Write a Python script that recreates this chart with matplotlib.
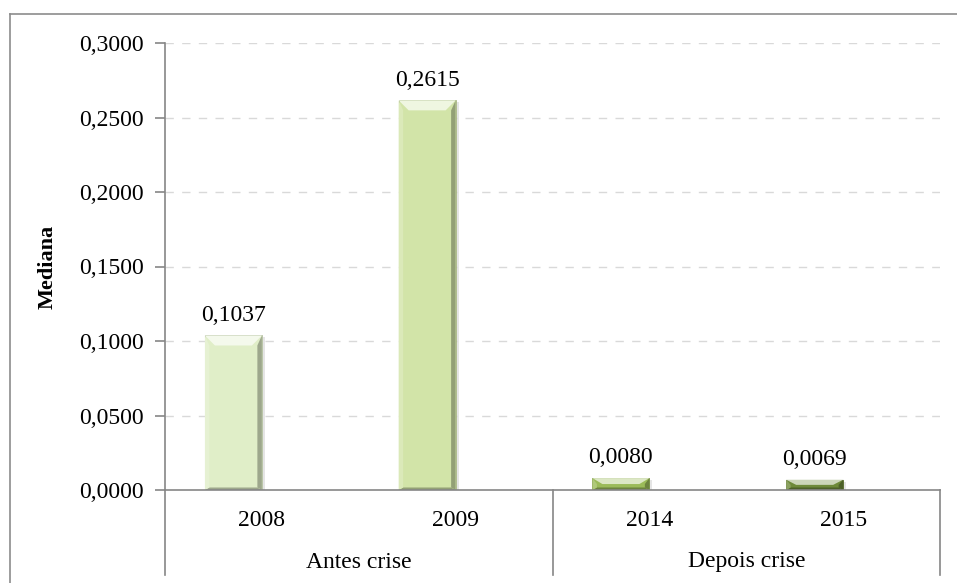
import matplotlib
matplotlib.use("Agg")
import matplotlib.pyplot as plt
from matplotlib.patches import Polygon
from matplotlib.lines import Line2D
from matplotlib.ticker import FuncFormatter
import matplotlib.colors as mcolors
import numpy as np

# Data
years = ["2008", "2009", "2014", "2015"]
groups = ["Antes crise", "Depois crise"]
group_sizes = [2, 2]
medians = [0.1037, 0.2615, 0.0080, 0.0069]
bar_colors = ["#E0EEC8", "#D2E4A8", "#9BBB59", "#6E8A3A"]

y_max = 0.30
y_step = 0.05

plt.rcParams["font.family"] = ["Liberation Serif", "DejaVu Serif"]

W, H = 957, 583
fig = plt.figure(figsize=(W / 100, H / 100), dpi=100)

# Plot area in pixels
left_px, right_px, top_px, bottom_px = 165, 940, 43, 490
ax = fig.add_axes([left_px / W, 1 - bottom_px / H,
                   (right_px - left_px) / W, (bottom_px - top_px) / H])

n = len(years)
ax.set_xlim(-0.5, n - 0.5)
ax.set_ylim(0, y_max)

# Outer chart frame (top and left edges visible)
frame_col = "#8C8C8C"
fig.add_artist(Line2D([10 / W, 1.01], [1 - 14 / H, 1 - 14 / H],
                      transform=fig.transFigure, color=frame_col, lw=1.2))
fig.add_artist(Line2D([10 / W, 10 / W], [1 - 14 / H, -0.01],
                      transform=fig.transFigure, color=frame_col, lw=1.2))

# Grid
yticks = np.arange(0, y_max + 1e-9, y_step)
for yv in yticks[1:]:
    ax.axhline(yv, color="#D9D9D9", lw=1.0, ls=(0, (6, 6)), zorder=0)

# Bars with bevel
bar_w = 0.294
offset = -0.147
px_per_x = (right_px - left_px) / n
px_per_y = (bottom_px - top_px) / y_max
bevel_px = 10

def shade(c, f):
    r, g, b = mcolors.to_rgb(c)
    if f >= 0:
        return (r + (1 - r) * f, g + (1 - g) * f, b + (1 - b) * f)
    return (r * (1 + f), g * (1 + f), b * (1 + f))

for i, (v, c) in enumerate(zip(medians, bar_colors)):
    x0 = i + offset - bar_w / 2
    x1 = i + offset + bar_w / 2
    # soft shadow
    sdx = 3 / px_per_x
    ax.add_patch(Polygon([(x0 + sdx, 0), (x1 + sdx, 0), (x1 + sdx, v - 2 / px_per_y),
                          (x0 + sdx, v - 2 / px_per_y)], closed=True,
                         facecolor="#000000", alpha=0.10, lw=0, zorder=2))
    ax.bar(i + offset, v, width=bar_w, color=c, edgecolor=shade(c, -0.2),
           linewidth=0.6, zorder=3)
    bh = min(bevel_px, v * px_per_y / 2)
    by = bh / px_per_y
    bwx = min(bevel_px, (x1 - x0) * px_per_x / 2) / px_per_x
    side = 0.45 * bwx
    bb = min(2.5, v * px_per_y / 4) / px_per_y
    # bottom bevel
    ax.add_patch(Polygon([(x0, 0), (x1, 0), (x1 - side, bb), (x0 + side, bb)],
                         closed=True, facecolor=shade(c, -0.3), lw=0, zorder=4))
    # right bevel
    ax.add_patch(Polygon([(x1, v), (x1, 0), (x1 - side, bb), (x1 - side, v - by)],
                         closed=True, facecolor=shade(c, -0.3), lw=0, zorder=4))
    # left bevel
    ax.add_patch(Polygon([(x0, v), (x0, 0), (x0 + side, bb), (x0 + side, v - by)],
                         closed=True, facecolor=shade(c, 0.2), lw=0, zorder=4))
    # top bevel
    ax.add_patch(Polygon([(x0, v), (x1, v), (x1 - bwx, v - by), (x0 + bwx, v - by)],
                         closed=True, facecolor=shade(c, 0.65), lw=0, zorder=4))
    # value label
    ax.annotate(f"{v:.4f}".replace(".", ","), xy=(i + offset, v), xytext=(0, 7),
                textcoords="offset points", ha="center", va="bottom",
                fontsize=17, color="#000000", zorder=5)

# Axes styling
axis_col = "#868686"
for s in ["top", "right"]:
    ax.spines[s].set_visible(False)
ax.spines["left"].set_color(axis_col)
ax.spines["bottom"].set_color(axis_col)
ax.spines["left"].set_linewidth(1.2)
ax.spines["bottom"].set_linewidth(1.2)
ax.spines["bottom"].set_zorder(6)

ax.set_yticks(yticks)
ax.yaxis.set_major_formatter(FuncFormatter(lambda v, p: f"{v:.4f}".replace(".", ",")))
ax.tick_params(axis="y", direction="out", length=7, width=1.2, color=axis_col,
               labelsize=17, pad=8)
ax.set_xticks([])

ax.set_ylabel("Mediana", fontsize=16, fontweight="bold")
ax.yaxis.set_label_coords(-(left_px - 58) / (right_px - left_px), 0.5)

# Category axis: year labels, group labels and separators
axis_bottom = (bottom_px - 575) / (bottom_px - top_px)
trans = ax.get_xaxis_transform()
for i, yr in enumerate(years):
    ax.text(i, (bottom_px - 520) / (bottom_px - top_px), yr, transform=trans,
            ha="center", va="center", fontsize=17)

start = 0
bounds = [-0.5]
for g, size in zip(groups, group_sizes):
    center = start + (size - 1) / 2
    ax.text(center, (bottom_px - 562) / (bottom_px - top_px), g, transform=trans,
            ha="center", va="center", fontsize=17)
    start += size
    bounds.append(start - 0.5)

for b in bounds:
    ax.add_line(Line2D([b, b], [0, axis_bottom], transform=trans, color=axis_col,
                       lw=1.2, clip_on=False))

fig.savefig("out.png", dpi=100)
